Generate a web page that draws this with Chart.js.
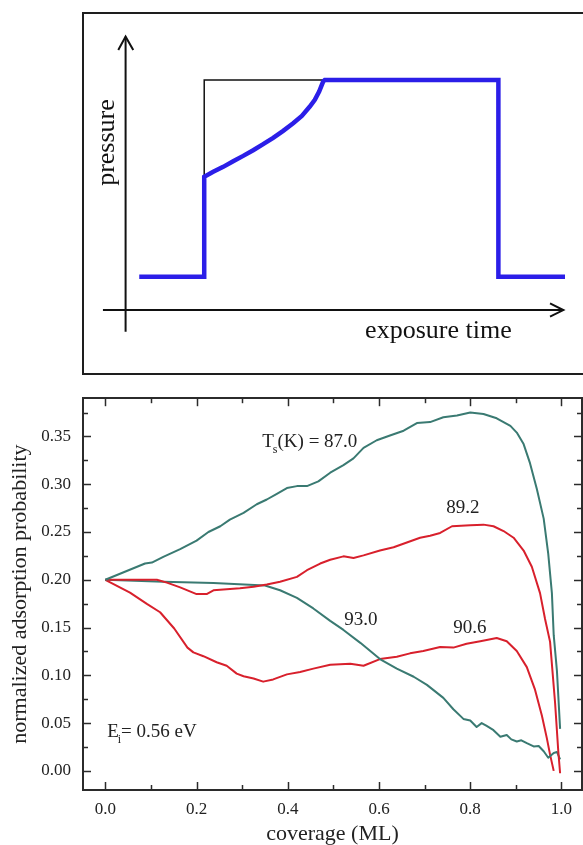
<!DOCTYPE html>
<html><head><meta charset="utf-8">
<script src="https://cdn.jsdelivr.net/npm/chart.js@4.4.0/dist/chart.umd.min.js"></script>
<style>
html,body{margin:0;padding:0;background:#fff;overflow:hidden;width:583px;height:845px;}
#topFrame{position:absolute;left:82px;top:12px;width:560px;height:363px;box-sizing:border-box;border:2px solid #1e1e1e;}
#top{position:absolute;left:0;top:0;}
#bot{position:absolute;left:0;top:376px;}
</style></head><body>
<div id="topFrame"></div>
<canvas id="top" width="583" height="376"></canvas>
<canvas id="bot" width="583" height="469"></canvas>
<script>
// ---------- Top schematic data (arbitrary units) ----------
const profileTime = [0.41, 2.36, 2.36, 2.63, 2.93, 3.23, 3.53, 3.83, 4.13, 4.43, 4.73, 5.03, 5.29, 5.53, 5.68, 5.81, 5.93, 5.98, 11.19, 11.19, 13.19];
const profilePressure = [1.0, 1.0, 4.00, 4.15, 4.30, 4.47, 4.63, 4.80, 4.98, 5.17, 5.38, 5.61, 5.83, 6.11, 6.31, 6.56, 6.86, 6.91, 6.91, 1.0, 1.0];
const idealTime = [2.36, 2.36, 5.98];
const idealPressure = [4.00, 6.91, 6.91];
const timeAxisX = [-0.68, 13.14];
const timeAxisY = [0, 0];
const pressureAxisX = [0, 0];
const pressureAxisY = [-0.65, 8.21];
const timeArrowX = [12.74, 13.14, 12.74];
const timeArrowY = [0.2, 0, -0.2];
const pressureArrowX = [-0.22, 0, 0.23];
const pressureArrowY = [7.81, 8.21, 7.81];

// ---------- Bottom chart data ----------
const cov87 = [0, 0.087, 0.102, 0.127, 0.164, 0.2, 0.226, 0.252, 0.273, 0.303, 0.332, 0.354, 0.376, 0.398, 0.42, 0.442, 0.467, 0.493, 0.522, 0.544, 0.566, 0.595, 0.624, 0.654, 0.683, 0.712, 0.741, 0.771, 0.8, 0.829, 0.858, 0.888, 0.902, 0.917, 0.931, 0.946, 0.961, 0.971, 0.979, 0.983, 0.99, 0.997];
const prob87 = [0.200, 0.217, 0.218, 0.224, 0.232, 0.241, 0.250, 0.256, 0.263, 0.270, 0.279, 0.284, 0.290, 0.296, 0.298, 0.298, 0.303, 0.312, 0.320, 0.327, 0.338, 0.346, 0.351, 0.356, 0.364, 0.365, 0.370, 0.372, 0.375, 0.3735, 0.369, 0.361, 0.354, 0.342, 0.322, 0.295, 0.264, 0.227, 0.186, 0.142, 0.105, 0.044];

const cov892 = [0, 0.113, 0.135, 0.164, 0.2, 0.222, 0.237, 0.266, 0.295, 0.325, 0.354, 0.383, 0.42, 0.442, 0.471, 0.493, 0.522, 0.544, 0.566, 0.602, 0.632, 0.661, 0.69, 0.712, 0.734, 0.76, 0.8, 0.829, 0.851, 0.873, 0.895, 0.917, 0.935, 0.953, 0.964, 0.975, 0.986, 0.993, 0.997];
const prob892 = [0.200, 0.200, 0.197, 0.192, 0.185, 0.185, 0.189, 0.190, 0.191, 0.1926, 0.195, 0.198, 0.203, 0.210, 0.217, 0.221, 0.2245, 0.2228, 0.2255, 0.2306, 0.234, 0.239, 0.244, 0.246, 0.249, 0.256, 0.257, 0.2577, 0.256, 0.251, 0.244, 0.2306, 0.2136, 0.186, 0.159, 0.135, 0.071, 0.0205, -0.0025];

const cov930 = [0, 0.127, 0.237, 0.35, 0.383, 0.42, 0.456, 0.493, 0.522, 0.559, 0.602, 0.639, 0.676, 0.705, 0.741, 0.763, 0.785, 0.8, 0.814, 0.825, 0.836, 0.851, 0.866, 0.88, 0.89, 0.902, 0.912, 0.924, 0.939, 0.95, 0.961, 0.971, 0.983, 0.99, 0.997];
const prob930 = [0.200, 0.198, 0.1966, 0.194, 0.189, 0.181, 0.170, 0.157, 0.1475, 0.134, 0.117, 0.107, 0.0985, 0.090, 0.0764, 0.0645, 0.0544, 0.0527, 0.046, 0.050, 0.047, 0.0426, 0.0358, 0.0375, 0.033, 0.0307, 0.032, 0.029, 0.0256, 0.026, 0.0205, 0.0137, 0.0188, 0.0198, 0.0121];

const cov906 = [0, 0.054, 0.091, 0.12, 0.151, 0.18, 0.193, 0.215, 0.244, 0.266, 0.288, 0.303, 0.325, 0.346, 0.368, 0.398, 0.427, 0.456, 0.493, 0.537, 0.566, 0.602, 0.639, 0.668, 0.697, 0.734, 0.763, 0.792, 0.822, 0.858, 0.88, 0.902, 0.924, 0.942, 0.957, 0.968, 0.975, 0.983];
const prob906 = [0.200, 0.1865, 0.1747, 0.166, 0.149, 0.129, 0.124, 0.120, 0.1137, 0.110, 0.1018, 0.099, 0.0967, 0.0934, 0.0957, 0.101, 0.1035, 0.107, 0.111, 0.112, 0.110, 0.117, 0.1195, 0.123, 0.1255, 0.1296, 0.129, 0.133, 0.1357, 0.139, 0.1357, 0.1255, 0.1086, 0.085, 0.058, 0.034, 0.017, 0.0];

const xTickValues = [0.0, 0.2, 0.4, 0.6, 0.8, 1.0];
const yTickValues = [0.00, 0.05, 0.10, 0.15, 0.20, 0.25, 0.30, 0.35];

const serif = "'Liberation Serif', 'Times New Roman', serif";
const TEAL = '#3a7a72';
const RED = '#d8202c';
const BLUE = '#2b1ee8';

function pts(xs, ys) { return xs.map((x, i) => ({ x: x, y: ys[i] })); }

// ---------- Top chart ----------
const topText = {
  id: 'topText',
  afterDatasetsDraw(chart) {
    const { ctx, scales: { x, y } } = chart;
    ctx.save();
    ctx.fillStyle = '#111';
    ctx.font = '26px ' + serif;
    ctx.textAlign = 'left';
    ctx.textBaseline = 'alphabetic';
    ctx.fillText('exposure time', x.getPixelForValue(7.19), y.getPixelForValue(-0.84));
    ctx.translate(x.getPixelForValue(-0.55), y.getPixelForValue(5.03));
    ctx.rotate(-Math.PI / 2);
    ctx.textAlign = 'center';
    ctx.textBaseline = 'middle';
    ctx.fillText('pressure', 0, 0);
    ctx.restore();
  }
};

const lineDs = (data, color, width) => ({
  data, borderColor: color, borderWidth: width, showLine: true, pointRadius: 0,
  tension: 0, fill: false, clip: false, borderJoinStyle: 'miter', borderCapStyle: 'butt'
});

new Chart(document.getElementById('top'), {
  type: 'scatter',
  data: {
    datasets: [
      lineDs(pts(profileTime, profilePressure), BLUE, 4.5),
      lineDs(pts(idealTime, idealPressure), '#111', 1.5),
      lineDs(pts(timeAxisX, timeAxisY), '#111', 2),
      lineDs(pts(pressureAxisX, pressureAxisY), '#111', 2),
      lineDs(pts(timeArrowX, timeArrowY), '#111', 2),
      lineDs(pts(pressureArrowX, pressureArrowY), '#111', 2)
    ]
  },
  options: {
    responsive: false, animation: false, devicePixelRatio: 1,
    layout: { padding: 0 },
    plugins: { legend: { display: false }, tooltip: { enabled: false } },
    scales: {
      x: { type: 'linear', display: false, min: -3.77, max: 13.73 },
      y: { type: 'linear', display: false, min: -1.98, max: 9.31 }
    }
  },
  plugins: [topText]
});

// ---------- Bottom chart ----------
const annotations = [
  { main: 'T', sub: 's', rest: '(K) = 87.0', x: 0.344, y: 0.344, align: 'left' },
  { main: '89.2', x: 0.784, y: 0.2746, align: 'center' },
  { main: '93.0', x: 0.560, y: 0.1577, align: 'center' },
  { main: '90.6', x: 0.799, y: 0.1499, align: 'center' },
  { main: 'E', sub: 'i', rest: '= 0.56 eV', x: 0.004, y: 0.0409, align: 'left' }
];

const innerTicks = {
  id: 'innerTicks',
  afterDraw(chart) {
    const { ctx, chartArea: a, scales: { x, y } } = chart;
    ctx.save();
    ctx.strokeStyle = '#2b2b2b';
    ctx.lineWidth = 1.5;
    const seg = (x1, y1, x2, y2) => { ctx.beginPath(); ctx.moveTo(x1, y1); ctx.lineTo(x2, y2); ctx.stroke(); };
    const xMinor = xTickValues.slice(1).map((v, i) => (v + xTickValues[i]) / 2);
    const yMinor = yTickValues.slice(1).map((v, i) => (v + yTickValues[i]) / 2);
    yMinor.push(yTickValues[yTickValues.length - 1] + (yTickValues[1] - yTickValues[0]) / 2);
    const doX = (vals, len) => vals.forEach(v => {
      const p = Math.round(x.getPixelForValue(v)) + 0.5;
      seg(p, a.bottom, p, a.bottom - len); seg(p, a.top, p, a.top + len);
    });
    const doY = (vals, len) => vals.forEach(v => {
      if (v < y.min || v > y.max) return;
      const p = Math.round(y.getPixelForValue(v)) + 0.5;
      seg(a.left, p, a.left + len, p); seg(a.right, p, a.right - len, p);
    });
    doX(xTickValues, 8); doX(xMinor, 5);
    doY(yTickValues, 8); doY(yMinor, 5);
    ctx.restore();
  },
  afterDatasetsDraw(chart) {
    const { ctx, scales: { x, y } } = chart;
    ctx.save();
    ctx.fillStyle = '#222';
    ctx.textBaseline = 'middle';
    annotations.forEach(an => {
      const px = x.getPixelForValue(an.x), py = y.getPixelForValue(an.y);
      ctx.font = '19px ' + serif;
      ctx.textAlign = an.align;
      if (!an.sub) { ctx.fillText(an.main, px, py); return; }
      ctx.textAlign = 'left';
      let cx = px;
      ctx.fillText(an.main, cx, py);
      cx += ctx.measureText(an.main).width;
      ctx.font = '12px ' + serif;
      ctx.fillText(an.sub, cx - 1, py + 8);
      cx += ctx.measureText(an.sub).width - 1;
      ctx.font = '19px ' + serif;
      ctx.fillText(an.rest, cx, py);
    });
    ctx.restore();
  }
};

const curve = (xs, ys, color) => ({
  data: pts(xs, ys), borderColor: color, borderWidth: 2, showLine: true,
  pointRadius: 0, tension: 0, fill: false, borderJoinStyle: 'round', clip: false
});

const X_MIN = -0.049, X_MAX = 1.045, Y_MIN = -0.020, Y_MAX = 0.390;
const borderOpt = { display: true, color: '#2b2b2b', width: 2 };
const noGrid = { display: false, drawTicks: false };

new Chart(document.getElementById('bot'), {
  type: 'scatter',
  data: {
    datasets: [
      curve(cov87, prob87, TEAL),
      curve(cov892, prob892, RED),
      curve(cov930, prob930, TEAL),
      curve(cov906, prob906, RED)
    ]
  },
  options: {
    responsive: false, animation: false, devicePixelRatio: 1,
    layout: { padding: 0 },
    plugins: { legend: { display: false }, tooltip: { enabled: false } },
    scales: {
      x: {
        type: 'linear', position: 'bottom', min: X_MIN, max: X_MAX,
        afterFit: s => { s.height = 55; },
        afterBuildTicks: s => { s.ticks = xTickValues.map(v => ({ value: v })); },
        ticks: { font: { family: serif, size: 17 }, color: '#222', padding: 9, maxRotation: 0, autoSkip: false,
                 callback: v => Number(v).toFixed(1) },
        grid: noGrid, border: borderOpt,
        title: { display: true, text: 'coverage (ML)', color: '#222',
                 font: { family: serif, size: 22, lineHeight: 1.0 }, padding: { top: 0, bottom: 0 } }
      },
      x2: {
        type: 'linear', position: 'top', min: X_MIN, max: X_MAX,
        afterFit: s => { s.height = 10; },
        ticks: { display: false }, grid: noGrid, border: borderOpt
      },
      y: {
        type: 'linear', position: 'left', min: Y_MIN, max: Y_MAX,
        afterFit: s => { s.width = 83; },
        afterBuildTicks: s => { s.ticks = yTickValues.map(v => ({ value: v })); },
        ticks: { font: { family: serif, size: 17 }, color: '#222', padding: 12, autoSkip: false,
                 callback: v => Number(v).toFixed(2) },
        grid: noGrid, border: borderOpt,
        title: { display: true, text: 'normalized adsorption probability', color: '#222',
                 font: { family: serif, size: 22, lineHeight: 1.2 }, padding: { top: 7, bottom: 0 } }
      },
      y2: {
        type: 'linear', position: 'right', min: Y_MIN, max: Y_MAX,
        afterFit: s => { s.width = 1; },
        ticks: { display: false }, grid: noGrid, border: borderOpt
      }
    }
  },
  plugins: [innerTicks]
});
</script>
</body></html>
